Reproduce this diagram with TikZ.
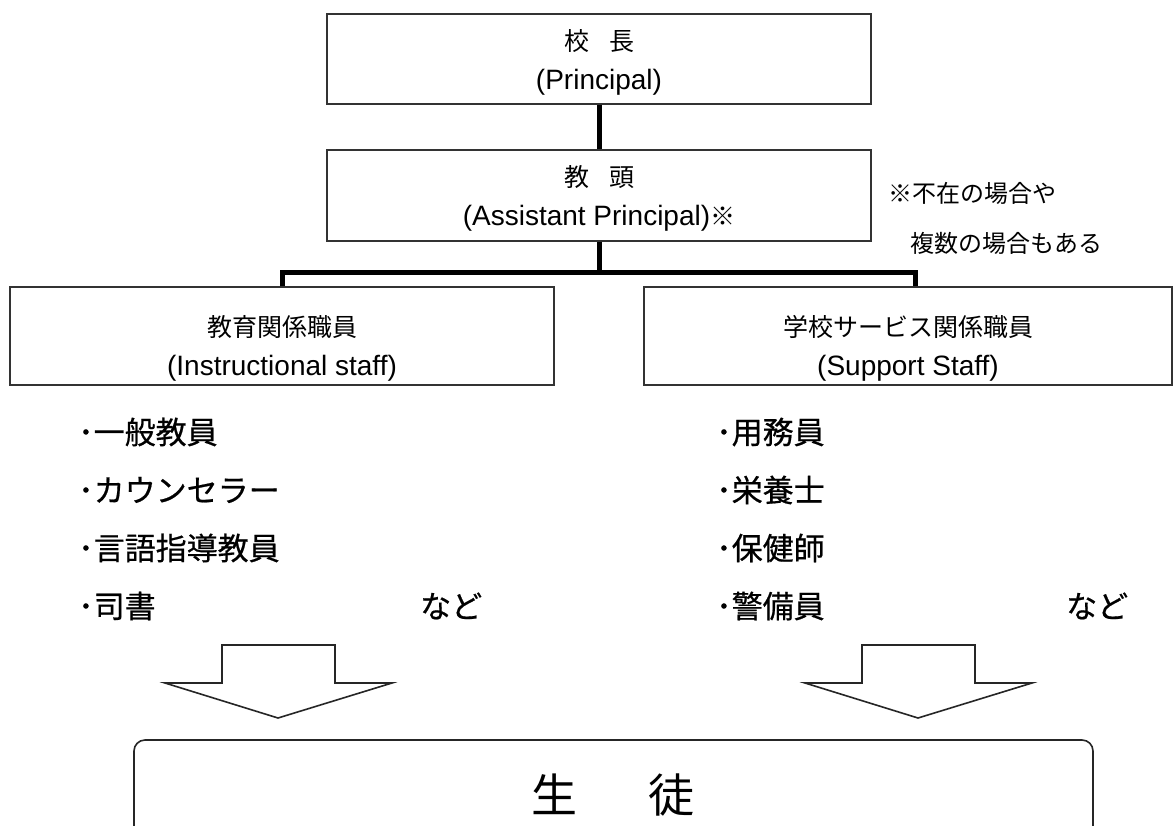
\documentclass[tikz,border=0pt]{standalone}
\usepackage{fontspec}
\setmainfont{Liberation Sans}
\newfontfamily\jp{Noto Sans CJK JP}
\newfontfamily\jpb[FakeBold=0.6]{Noto Sans CJK JP}
\begin{document}
\begin{tikzpicture}[x=1pt,y=-1pt,
  box/.style={draw=black!80,line width=1.4pt,minimum width=544pt,inner sep=0pt,align=center,
    font=\fontsize{28}{38}\selectfont},
  conn/.style={line width=5pt,black},
  blockarrow/.style={draw=black!85,line width=1.6pt,fill=white,line join=miter},
  item/.style={anchor=west,inner sep=0pt,font=\jpb\fontsize{31}{32}\selectfont},
  note/.style={anchor=west,inner sep=0pt,font=\jp\fontsize{24}{30}\selectfont}]
\clip (0,0) rectangle (1175,825);
\fill[white] (0,0) rectangle (1175,825);

\newcommand{\jt}[2][27pt]{{\jp\fontsize{25}{38}\selectfont\rule{0pt}{#1}#2}}
\node[box,minimum height=90pt] (prin) at (599,59) {\jt{校\hspace{0.8em}長}\\[1pt](Principal)};
\node[box,minimum height=91pt] (asst) at (599,195.5) {\jt{教\hspace{0.8em}頭}\\[1pt](Assistant Principal)\jt{※}};
\node[box,minimum height=98pt,minimum width=544pt] (inst) at (282,336) {\jt[45pt]{教育関係職員}\\[1pt](Instructional staff)};
\node[box,minimum height=98pt,minimum width=528pt] (supp) at (908,336) {\jt[45pt]{学校サービス関係職員}\\[1pt](Support Staff)};

\node[note] (n1) at (888,193) {※不在の場合や};
\node[note] (n2) at (910,243) {複数の場合もある};

\coordinate (barL) at (282,272);
\coordinate (barR) at (915,272);
\draw[conn] (prin.south) -- (asst.north);
\draw[conn] (asst.south) -- (asst.south |- barL);
\draw[conn] (inst.north) -- (barL) -- (barR) -- (barR |- supp.north);

\node[item] (l1) at (78,432) {･一般教員};
\node[item] (l2) at (78,490) {･カウンセラー};
\node[item] (l3) at (78,548) {･言語指導教員};
\node[item] (l4) at (78,606) {･司書};
\node[item] (l5) at (420,606) {など};
\node[item] (r1) at (716,432) {･用務員};
\node[item] (r2) at (716,490) {･栄養士};
\node[item] (r3) at (716,548) {･保健師};
\node[item] (r4) at (716,606) {･警備員};
\node[item] (r5) at (1066,606) {など};

\draw[blockarrow] (222,645) -- (335,645) -- (335,683) -- (392,683) -- (278,718) -- (165,683) -- (222,683) -- cycle;
\draw[blockarrow] (862,645) -- (975,645) -- (975,683) -- (1032,683) -- (918,718) -- (805,683) -- (862,683) -- cycle;

\draw[draw=black!85,line width=1.6pt,rounded corners=11pt] (134,740) rectangle (1093,880);
\node[font=\jp\fontsize{46}{50}\selectfont,inner sep=0pt] (stu) at (613,795) {生\hspace{1.55em}徒};
\end{tikzpicture}
\end{document}
